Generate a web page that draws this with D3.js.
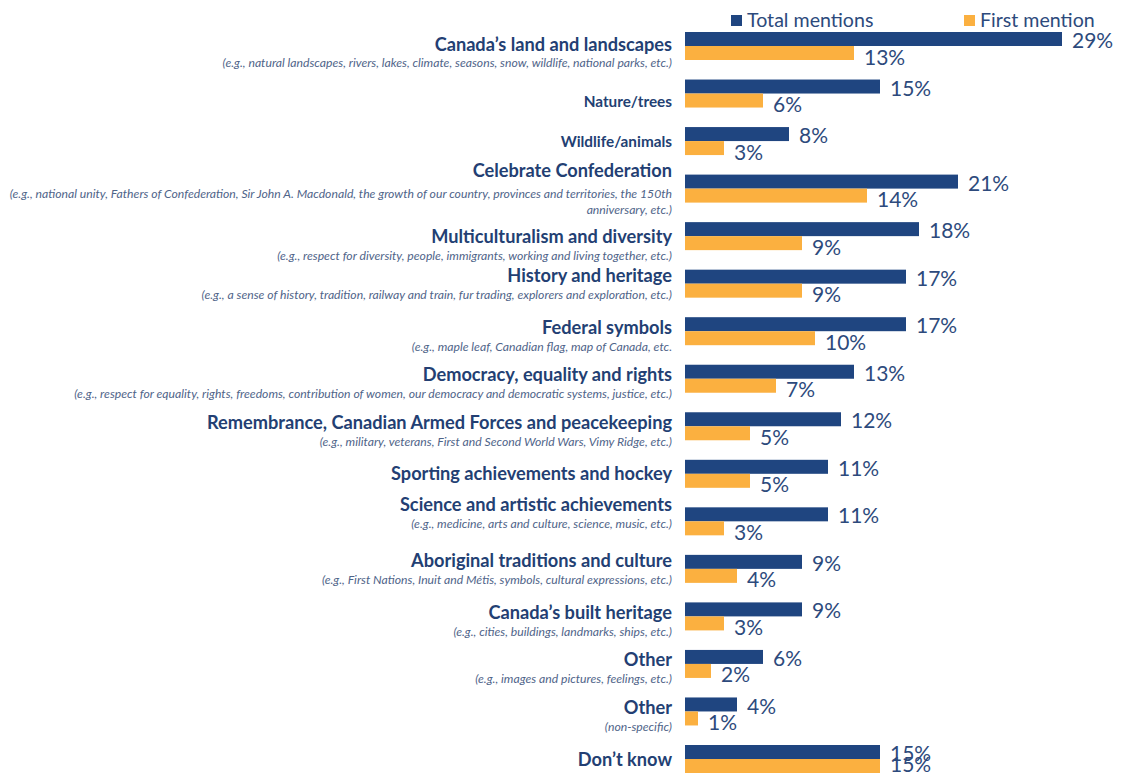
<!DOCTYPE html>
<html>
<head>
<meta charset="utf-8">
<script src="https://cdn.jsdelivr.net/npm/d3@7/dist/d3.min.js"></script>
<style>
  html, body { margin: 0; padding: 0; background: #ffffff; }
  svg { display: block; }
</style>
</head>
<body>
<svg id="chart" width="1122" height="775"></svg>
<script>
// ---- Data ----
const categories = [
  "Canada\u2019s land and landscapes",
  "Nature/trees",
  "Wildlife/animals",
  "Celebrate Confederation",
  "Multiculturalism and diversity",
  "History and heritage",
  "Federal symbols",
  "Democracy, equality and rights",
  "Remembrance, Canadian Armed Forces and peacekeeping",
  "Sporting achievements and hockey",
  "Science and artistic achievements",
  "Aboriginal traditions and culture",
  "Canada\u2019s built heritage",
  "Other",
  "Other",
  "Don\u2019t know"
];
const subtitles = [
  ["(e.g., natural landscapes, rivers, lakes, climate, seasons, snow, wildlife, national parks, etc.)"],
  [],
  [],
  ["(e.g., national unity, Fathers of Confederation, Sir John A. Macdonald, the growth of our country, provinces and territories, the 150th", "anniversary, etc.)"],
  ["(e.g., respect for diversity, people, immigrants, working and living together, etc.)"],
  ["(e.g., a sense of history, tradition, railway and train, fur trading, explorers and exploration, etc.)"],
  ["(e.g., maple leaf, Canadian flag, map of Canada, etc."],
  ["(e.g., respect for equality, rights, freedoms, contribution of women, our democracy and democratic systems, justice, etc.)"],
  ["(e.g., military, veterans, First and Second World Wars, Vimy Ridge, etc.)"],
  [],
  ["(e.g., medicine, arts and culture, science, music, etc.)"],
  ["(e.g., First Nations, Inuit and M\u00e9tis, symbols, cultural expressions, etc.)"],
  ["(e.g., cities, buildings, landmarks, ships, etc.)"],
  ["(e.g., images and pictures, feelings, etc.)"],
  ["(non-specific)"],
  []
];
const subCategory = [false, true, true, false, false, false, false, false, false, false, false, false, false, false, false, false];
const totalMentions = [29, 15, 8, 21, 18, 17, 17, 13, 12, 11, 11, 9, 9, 6, 4, 15];
const firstMention  = [13, 6, 3, 14, 9, 9, 10, 7, 5, 5, 3, 4, 3, 2, 1, 15];
const seriesNames = ["Total mentions", "First mention"];

// ---- Style ----
const NAVY = "#1f4580";
const ORANGE = "#fbb040";
const TITLE_COLOR = "#233f73";
const SUB_COLOR = "#4f6489";
const VALUE_COLOR = "#2d4a7c";
const FONT = "Lato, 'Open Sans', sans-serif";

const svg = d3.select("#chart");

const idx = d3.range(categories.length);
const y = d3.scalePoint().domain(idx).range([46, 759]);
const ySeries = d3.scaleBand().domain(seriesNames).range([-14, 14]).padding(0);
const x = d3.scaleLinear().domain([0, 30]).range([685, 1075]);

const colors = d3.scaleOrdinal().domain(seriesNames).range([NAVY, ORANGE]);
const values = { "Total mentions": totalMentions, "First mention": firstMention };

// bars and value labels
seriesNames.forEach(s => {
  svg.append("g").selectAll("rect")
    .data(idx)
    .join("rect")
    .attr("x", x(0))
    .attr("y", i => y(i) + ySeries(s))
    .attr("width", i => x(values[s][i]) - x(0))
    .attr("height", ySeries.bandwidth())
    .attr("fill", colors(s));

  svg.append("g").selectAll("text")
    .data(idx)
    .join("text")
    .attr("x", i => x(values[s][i]) + 10)
    .attr("y", i => Math.min(764, y(i) + ySeries(s) + ySeries.bandwidth() / 2 + (s === seriesNames[0] ? 1.5 : 4)))
    .attr("dy", "0.36em")
    .attr("font-family", FONT)
    .attr("font-size", 21)
    .attr("fill", VALUE_COLOR)
    .text(i => values[s][i] + "%");
});

// category labels
const labelX = 672;
const nudge = {0: 2, 1: 8, 4: 4, 5: -4, 10: -13, 11: -4};
const g = svg.append("g");
idx.forEach(i => {
  const c = y(i) + (nudge[i] || 0);
  const subs = subtitles[i];
  let ty, subY0;
  if (subs.length === 0) { ty = c; }
  else if (subs.length === 1) { ty = c - 4; subY0 = c + 15; }
  else { ty = c - 18; subY0 = c + 5; }
  g.append("text")
    .attr("x", labelX).attr("y", ty).attr("dy", "0.36em")
    .attr("text-anchor", "end")
    .attr("font-family", FONT)
    .attr("font-weight", 700)
    .attr("font-size", subCategory[i] ? 15.3 : 18.2)
    .attr("fill", TITLE_COLOR)
    .text(categories[i]);
  subs.forEach((line, k) => {
    g.append("text")
      .attr("x", labelX).attr("y", subY0 + k * 16).attr("dy", "0.36em")
      .attr("text-anchor", "end")
      .attr("font-family", FONT)
      .attr("font-style", "italic")
      .attr("font-size", 12.2)
      .attr("fill", SUB_COLOR)
      .text(line);
  });
});

// legend
const legend = svg.append("g");
const legendX = [731, 964];
seriesNames.forEach((s, k) => {
  legend.append("rect")
    .attr("x", legendX[k]).attr("y", 15)
    .attr("width", 11).attr("height", 11)
    .attr("fill", colors(s));
  legend.append("text")
    .attr("x", legendX[k] + 16).attr("y", 20).attr("dy", "0.36em")
    .attr("font-family", FONT)
    .attr("font-size", 19.6)
    .attr("fill", VALUE_COLOR)
    .text(s);
});
</script>
</body>
</html>
